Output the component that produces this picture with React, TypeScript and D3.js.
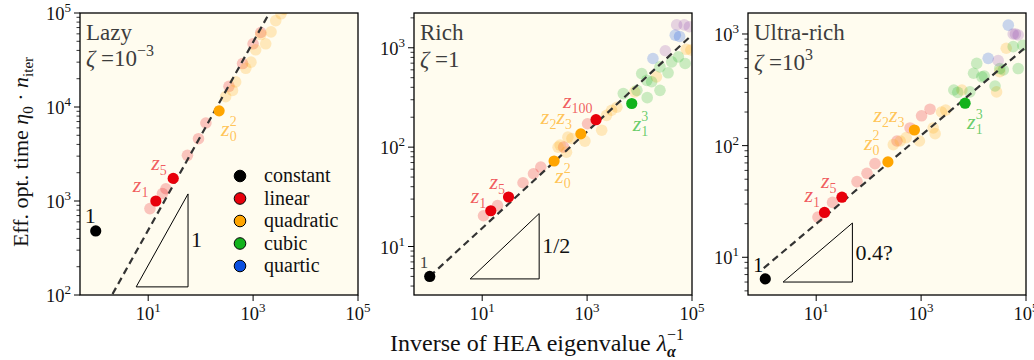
import React from 'react';
import * as d3 from 'd3';

type Pt = [number, number];
type Key = { cat: string; x: number; y: number };

const FONT = '"Liberation Serif", "DejaVu Serif", serif';

const legendCats = ['constant', 'linear', 'quadratic', 'cubic', 'quartic'];
const catColor: Record<string, string> = {
  constant: '#000000',
  linear: '#e8000b',
  quadratic: '#ffa500',
  cubic: '#12b21c',
  quartic: '#0a4fe0',
  quintic: '#8e44ad',
};

const xTicks = [10, 1e3, 1e5];

// ---- Lazy (zeta = 1e-3)
const lazyFadedLinear: Pt[] = [[10.8, 830], [18.7, 1200], [21.8, 1350], [56, 3060], [91, 4600], [126, 6760], [347, 16600], [630, 29000], [1000, 47000], [1400, 62000]];
const lazyFadedQuadratic: Pt[] = [[300, 12900], [405, 15000], [465, 18500], [725, 25800], [910, 30000], [1120, 40600], [1740, 47000], [1400, 59000], [2200, 63000], [2700, 83000], [3400, 98000], [3900, 110000]];
const lazyKey: Key[] = [
  { cat: 'constant', x: 1, y: 480 },
  { cat: 'linear', x: 14, y: 1000 },
  { cat: 'linear', x: 30, y: 1740 },
  { cat: 'quadratic', x: 225, y: 9100 },
];

// ---- Rich (zeta = 1)
const richFadedLinear: Pt[] = [[10.6, 20.4], [19.6, 25.8], [60, 43.8], [95, 54], [131, 63], [357, 100], [1020, 172]];
const richFadedQuadratic: Pt[] = [[280, 100], [306, 105], [405, 89], [430, 126], [515, 122], [910, 115], [1900, 148], [2350, 209], [2930, 235], [3700, 252], [8100, 360], [21000, 510], [78000, 965], [95000, 950]];
const richFadedCubic: Pt[] = [[4900, 346], [8900, 373], [11000, 550], [13800, 470], [17000, 455], [14000, 315], [24500, 373], [24500, 643], [35000, 560], [41000, 722], [55000, 810], [74000, 695]];
const richFadedQuartic: Pt[] = [[18000, 780], [48000, 1340], [58000, 1300]];
const richFadedQuintic: Pt[] = [[31000, 933], [51000, 1700], [71000, 1700], [89000, 1630]];
const richKey: Key[] = [
  { cat: 'constant', x: 1, y: 5.0 },
  { cat: 'linear', x: 14.6, y: 22.9 },
  { cat: 'linear', x: 31.8, y: 31.5 },
  { cat: 'quadratic', x: 235, y: 72.5 },
  { cat: 'quadratic', x: 760, y: 136 },
  { cat: 'linear', x: 1480, y: 189 },
  { cat: 'cubic', x: 7100, y: 275 },
];

// ---- Ultra-rich (zeta = 1e3)
const ultraFadedLinear: Pt[] = [[10.8, 22.9], [20.5, 31], [60, 47.6], [93, 56.5], [132, 69], [347, 110], [615, 144], [1020, 185], [1480, 212]];
const ultraFadedQuadratic: Pt[] = [[295, 102], [400, 110], [520, 118], [930, 110], [1700, 144], [1850, 128], [2450, 200], [2950, 208], [6000, 315], [27500, 303], [31600, 460], [42000, 745]];
const ultraFadedCubic: Pt[] = [[4200, 315], [5000, 300], [8500, 303], [11500, 545], [10000, 445], [14400, 413], [16000, 420], [25700, 342], [31600, 490], [37000, 476], [57000, 770], [71000, 490], [87000, 790]];
const ultraFadedQuartic: Pt[] = [[19000, 605], [46000, 1200]];
const ultraFadedQuintic: Pt[] = [[29500, 577], [57000, 1000], [63000, 1000], [71000, 980]];
const ultraKey: Key[] = [
  { cat: 'constant', x: 1.07, y: 6.4 },
  { cat: 'linear', x: 14.4, y: 25.2 },
  { cat: 'linear', x: 31, y: 34.5 },
  { cat: 'quadratic', x: 233, y: 71.5 },
  { cat: 'quadratic', x: 745, y: 138 },
  { cat: 'cubic', x: 6900, y: 240 },
];

// z-labels: key index, subscript(s), superscript
const lazyLabels = [{ i: 1, subs: ['1'] }, { i: 2, subs: ['5'] }, { i: 3, subs: ['0'], sup: '2' }];
const richLabels = [{ i: 1, subs: ['1'] }, { i: 2, subs: ['5'] }, { i: 3, subs: ['0'], sup: '2' }, { i: 4, subs: ['2', '3'] }, { i: 5, subs: ['100'] }, { i: 6, subs: ['1'], sup: '3' }];
const ultraLabels = [{ i: 1, subs: ['1'] }, { i: 2, subs: ['5'] }, { i: 3, subs: ['0'], sup: '2' }, { i: 4, subs: ['2', '3'] }, { i: 5, subs: ['1'], sup: '3' }];

// label offsets in px from their point
const lazyLabelOff = [[-23, -9], [-22, -8], [2, 25]];
const richLabelOff = [[-20, -8], [-19, -8], [1, 22], [-40, -10], [-33, -12], [1, 28]];
const ultraLabelOff = [[-20, -10], [-21, -9], [-24, -12], [-41, -8], [2, 26]];

const panels = [
  {
    id: 'lazy', title: 'Lazy', zeta: '10', zetaSup: '\u22123', left: 80, right: 358, top: 13, bottom: 295,
    yDomain: [100, 1e5], yTicks: [1e2, 1e3, 1e4, 1e5],
    faded: [['linear', lazyFadedLinear], ['quadratic', lazyFadedQuadratic]],
    key: lazyKey, labels: lazyLabels, labelOff: lazyLabelOff,
    fit: { a: 49, b: 1.0 }, tri: { x0: 5.9, x1: 57.5, y0: 122, s: 1 }, slope: '1',
    oneLabel: { dx: -11, dy: -8, size: 22, color: '#111' }, zetaY: 66,
  },
  {
    id: 'rich', title: 'Rich', zeta: '1', zetaSup: '', left: 414, right: 692, top: 13, bottom: 295,
    yDomain: [Math.pow(10, 0.512), Math.pow(10, 3.35)], yTicks: [1e1, 1e2, 1e3],
    faded: [['linear', richFadedLinear], ['quadratic', richFadedQuadratic], ['cubic', richFadedCubic], ['quartic', richFadedQuartic], ['quintic', richFadedQuintic]],
    key: richKey, labels: richLabels, labelOff: richLabelOff,
    fit: { a: 5.0, b: 0.486 }, tri: { x0: 5.9, x1: 122, y0: 4.72, s: 0.5 }, slope: '1/2',
    oneLabel: { dx: -10, dy: -8, size: 17, color: '#444' }, zetaY: 67,
  },
  {
    id: 'ultra', title: 'Ultra-rich', zeta: '10', zetaSup: '3', left: 748, right: 1026, top: 13, bottom: 295,
    yDomain: [Math.pow(10, 0.662), Math.pow(10, 3.188)], yTicks: [1e1, 1e2, 1e3],
    faded: [['linear', ultraFadedLinear], ['quadratic', ultraFadedQuadratic], ['cubic', ultraFadedCubic], ['quartic', ultraFadedQuartic], ['quintic', ultraFadedQuintic]],
    key: ultraKey, labels: ultraLabels, labelOff: ultraLabelOff,
    fit: { a: 8.0, b: 0.396 }, tri: { x0: 2.34, x1: 49, y0: 6.0, s: 0.4 }, slope: '0.4?',
    oneLabel: { dx: -12, dy: -7, size: 20, color: '#000' }, zetaY: 70,
  },
];

const xDomain = [Math.pow(10, -0.3), 1e5];

function Pow10({ x, y, e, anchor }: { x: number; y: number; e: string; anchor: string }) {
  return (
    <text x={x} y={y} textAnchor={anchor} fontSize={18.5} fontFamily={FONT} fill="#111">
      10<tspan dy={-8} fontSize={13}>{e}</tspan>
    </text>
  );
}

function ZLabel({ x, y, subs, sup, color }: { x: number; y: number; subs: string[]; sup?: string; color: string }) {
  const parts: React.ReactNode[] = [];
  subs.forEach((s, k) => {
    parts.push(<tspan key={'z' + k} fontStyle="italic" dy={k === 0 ? 0 : -5}>z</tspan>);
    parts.push(<tspan key={'s' + k} dy={5} fontSize={14}>{s}</tspan>);
  });
  if (sup) {
    parts.push(<tspan key="sup" dx={-7} dy={-15} fontSize={14}>{sup}</tspan>);
  }
  return (
    <text x={x} y={y} fontSize={22} fontFamily={FONT} fill={color} fillOpacity={0.65}>{parts}</text>
  );
}

function Panel({ p }: { p: any }) {
  const x = d3.scaleLog().domain(xDomain).range([p.left, p.right]);
  const y = d3.scaleLog().domain(p.yDomain).range([p.bottom, p.top]);
  const [lo, hi] = p.yDomain;
  const minor: number[] = [];
  for (let k = Math.floor(Math.log10(lo)); k <= Math.ceil(Math.log10(hi)); k++) {
    for (let m = 2; m <= 9; m++) {
      const v = m * Math.pow(10, k);
      if (v >= lo && v <= hi) minor.push(v);
    }
  }
  const line = d3.line<Pt>().x(d => x(d[0])).y(d => y(d[1]));
  const fitPts: Pt[] = [1, 1e5].map(v => [v, p.fit.a * Math.pow(v, p.fit.b)] as Pt);
  const t = p.tri;
  const y1 = t.y0 * Math.pow(t.x1 / t.x0, t.s);
  const triPts: Pt[] = [[t.x0, t.y0], [t.x1, t.y0], [t.x1, y1]];
  const tri = d3.line<Pt>().x(d => x(d[0])).y(d => y(d[1])).curve(d3.curveLinearClosed);
  const clip = `clip-${p.id}`;
  const k0 = p.key[0];

  return (
    <g>
      <defs>
        <clipPath id={clip}>
          <rect x={p.left} y={p.top} width={p.right - p.left} height={p.bottom - p.top} />
        </clipPath>
      </defs>
      <rect x={p.left} y={p.top} width={p.right - p.left} height={p.bottom - p.top} fill="#fffcef" />
      <g clipPath={`url(#${clip})`}>
        {p.faded.map(([cat, pts]: [string, Pt[]]) =>
          pts.map((d, i) => (
            <circle key={cat + i} cx={x(d[0])} cy={y(d[1])} r={5.8} fill={catColor[cat]} fillOpacity={0.22} />
          ))
        )}
        <path d={line(fitPts) || ''} fill="none" stroke="#333" strokeWidth={2.2} strokeDasharray="7,4.5" />
        {p.key.map((d: Key, i: number) => (
          <circle key={'k' + i} cx={x(d.x)} cy={y(d.y)} r={5.6} fill={catColor[d.cat]} />
        ))}
      </g>
      <path d={tri(triPts) || ''} fill="none" stroke="#000" strokeWidth={1} />
      <text x={x(t.x1) + 3} y={(y(t.y0) + y(y1)) / 2 + 7} fontSize={22} fontFamily={FONT} fill="#111">{p.slope}</text>

      {/* labels */}
      <text x={x(k0.x) + p.oneLabel.dx} y={y(k0.y) + p.oneLabel.dy} fontSize={p.oneLabel.size} fontFamily={FONT} fill={p.oneLabel.color}>1</text>
      {p.labels.map((l: any, j: number) => {
        const d = p.key[l.i];
        const [dx, dy] = p.labelOff[j];
        return <ZLabel key={'l' + j} x={x(d.x) + dx} y={y(d.y) + dy} subs={l.subs} sup={l.sup} color={catColor[d.cat]} />;
      })}

      {/* title */}
      <text x={p.left + 6} y={40} fontSize={23} fontFamily={FONT} fill="#3d3d3d">{p.title}</text>
      <text x={p.left + 6} y={p.zetaY} fontSize={23} fontFamily={FONT} fill="#3d3d3d">
        <tspan fontStyle="italic">ζ</tspan> =
        {p.zeta}
        {p.zetaSup ? <tspan dy={-10} fontSize={16}>{p.zetaSup}</tspan> : null}
      </text>

      {/* axes */}
      <rect x={p.left} y={p.top} width={p.right - p.left} height={p.bottom - p.top} fill="none" stroke="#000" strokeWidth={1.3} />
      {minor.map((v, i) => (
        <line key={'m' + i} x1={p.left - 3.5} x2={p.left} y1={y(v)} y2={y(v)} stroke="#000" strokeWidth={0.8} />
      ))}
      {p.yTicks.map((v: number) => (
        <g key={'y' + v}>
          <line x1={p.left - 6} x2={p.left} y1={y(v)} y2={y(v)} stroke="#000" strokeWidth={1} />
          <Pow10 x={p.left - 9} y={y(v) + 7} e={String(Math.round(Math.log10(v)))} anchor="end" />
        </g>
      ))}
      {xTicks.map(v => (
        <g key={'x' + v}>
          <line x1={x(v)} x2={x(v)} y1={p.bottom} y2={p.bottom + 6} stroke="#000" strokeWidth={1} />
          <Pow10 x={x(v)} y={p.bottom + 25} e={String(Math.round(Math.log10(v)))} anchor="middle" />
        </g>
      ))}
    </g>
  );
}

function Legend() {
  return (
    <g>
      {legendCats.map((c, i) => (
        <g key={c}>
          <circle cx={240} cy={176 + i * 22.5} r={5.8} fill={catColor[c]} stroke="#000" strokeWidth={1} />
          <text x={264} y={176 + i * 22.5 + 6} fontSize={20} fontFamily={FONT} fill="#111">{c}</text>
        </g>
      ))}
    </g>
  );
}

export default function App() {
  return (
    <svg width={1034} height={360} style={{ position: 'absolute', left: 0, top: 0, background: '#fff' }}>
      {panels.map(p => <Panel key={p.id} p={p} />)}
      <Legend />
      <text transform="translate(28,152) rotate(-90)" textAnchor="middle" fontSize={22} fontFamily={FONT} fill="#111">
        Eff. opt. time <tspan fontStyle="italic">η</tspan><tspan dy={5} fontSize={15}>0</tspan>
        <tspan dy={-5}> · </tspan><tspan fontStyle="italic">n</tspan><tspan dy={5} fontSize={15}>iter</tspan>
      </text>
      <text x={537} y={351} textAnchor="middle" fontSize={24} fontFamily={FONT} fill="#111">
        Inverse of HEA eigenvalue <tspan fontStyle="italic">λ</tspan>
        <tspan dy={6} fontSize={16} fontStyle="italic" fontWeight="bold">α</tspan>
        <tspan dx={-9} dy={-17} fontSize={16}>−1</tspan>
      </text>
    </svg>
  );
}
